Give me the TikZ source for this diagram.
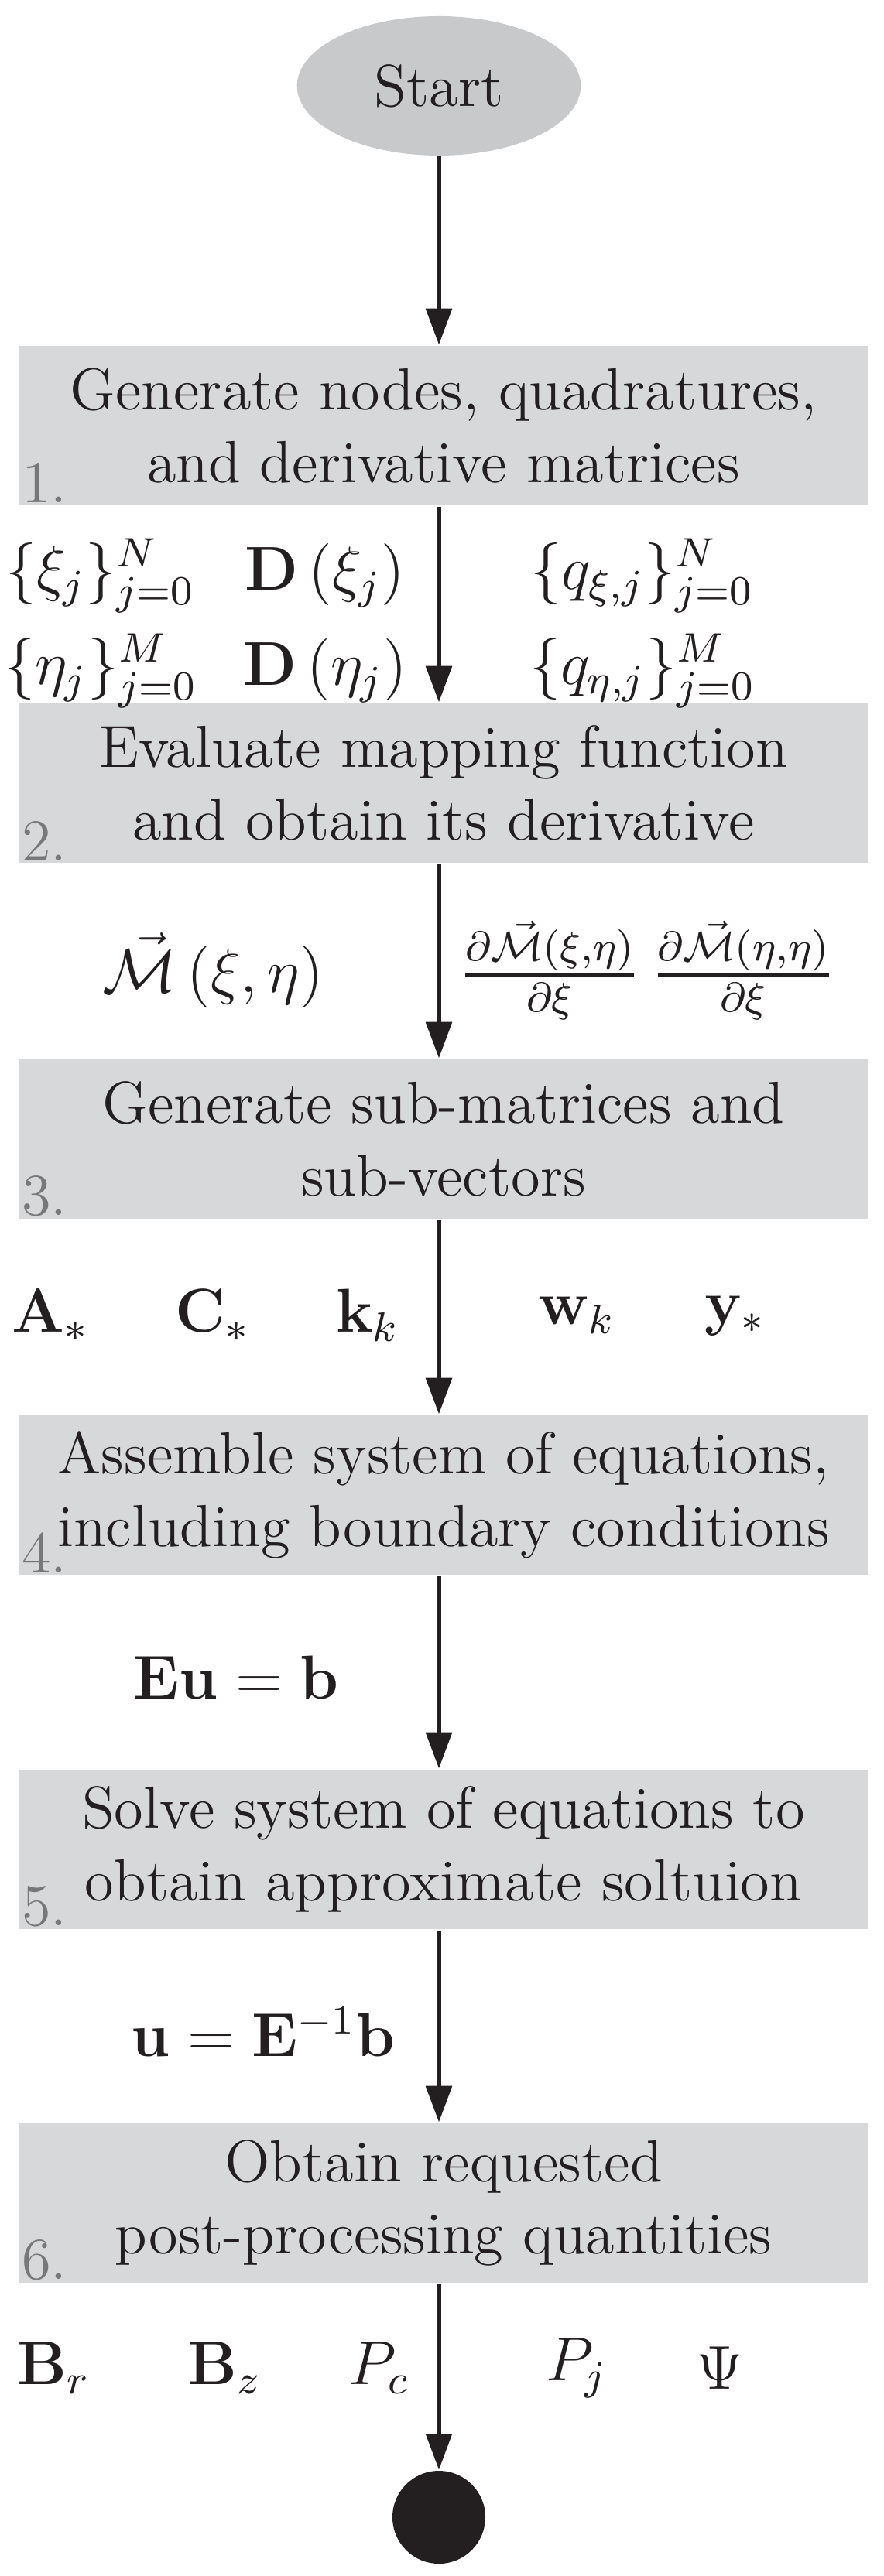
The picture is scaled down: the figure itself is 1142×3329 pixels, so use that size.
\documentclass[tikz,border=0pt]{standalone}
\usepackage{amsmath}
\usetikzlibrary{arrows.meta,shapes.geometric}
\definecolor{boxgray}{RGB}{215,216,218}
\definecolor{ellgray}{RGB}{200,201,203}
\definecolor{numgray}{RGB}{120,120,120}
\definecolor{ink}{RGB}{35,31,32}
\begin{document}
\begin{tikzpicture}[x=0.15pt,y=-0.15pt,font=\fontsize{11.5}{14}\selectfont,
  stepbox/.style={fill=boxgray,minimum width=164.4pt,minimum height=31pt,align=center,inner sep=0pt,text=ink},
  num/.style={text=numgray,anchor=south west,inner sep=0.5pt},
  lbl/.style={text=ink,inner sep=0pt},
  flow/.style={draw=ink,line width=0.75pt,-{Triangle[length=7pt,width=5pt]}}]
\useasboundingbox (0,0) rectangle (1142,3329);
\node[fill=ellgray,ellipse,minimum width=55pt,minimum height=27pt,inner sep=0pt,text=ink] (start) at (567,111) {Start};
\node[stepbox] (b1) at (573,550) {Generate nodes, quadratures,\\ and derivative matrices};
\node[stepbox] (b2) at (573,1012) {Evaluate mapping function\\ and obtain its derivative};
\node[stepbox] (b3) at (573,1472) {Generate sub-matrices and\\ sub-vectors};
\node[stepbox] (b4) at (573,1932) {Assemble system of equations,\\ including boundary conditions};
\node[stepbox] (b5) at (573,2390) {Solve system of equations to\\ obtain approximate soltuion};
\node[stepbox] (b6) at (573,2847) {Obtain requested\\ post-processing quantities};
\node[fill=ink,circle,minimum size=18pt,inner sep=0pt] (end) at (567,3253) {};
\foreach \b/\n in {b1/1,b2/2,b3/3,b4/4,b5/5,b6/6} \node[num] at (\b.south west) {\n.};
\draw[flow] (start) -- (start|-b1.north);
\draw[flow] (b1.south-|start) -- (start|-b2.north);
\draw[flow] (b2.south-|start) -- (start|-b3.north);
\draw[flow] (b3.south-|start) -- (start|-b4.north);
\draw[flow] (b4.south-|start) -- (start|-b5.north);
\draw[flow] (b5.south-|start) -- (start|-b6.north);
\draw[flow] (b6.south-|start) -- (end);
% labels
\node[lbl] (l1) at (130,744) {$\{\xi_j\}_{j=0}^{N}$};
\node[lbl] (l2) at (420,744) {$\mathbf{D}\left(\xi_j\right)$};
\node[lbl] (l3) at (830,744) {$\{q_{\xi,j}\}_{j=0}^{N}$};
\node[lbl] (l4) at (130,867) {$\{\eta_j\}_{j=0}^{M}$};
\node[lbl] (l5) at (420,867) {$\mathbf{D}\left(\eta_j\right)$};
\node[lbl] (l6) at (830,867) {$\{q_{\eta,j}\}_{j=0}^{M}$};
\node[lbl] (m1) at (275,1254) {$\vec{\mathcal{M}}\left(\xi,\eta\right)$};
\node[lbl] (m2) at (710,1254) {$\frac{\partial\vec{\mathcal{M}}(\xi,\eta)}{\partial\xi}$};
\node[lbl] (m3) at (960,1254) {$\frac{\partial\vec{\mathcal{M}}(\eta,\eta)}{\partial\xi}$};
\node[lbl] (a1) at (65,1700) {$\mathbf{A}_*$};
\node[lbl] (a2) at (275,1700) {$\mathbf{C}_*$};
\node[lbl] (a3) at (475,1700) {$\mathbf{k}_k$};
\node[lbl] (a4) at (745,1700) {$\mathbf{w}_k$};
\node[lbl] (a5) at (950,1700) {$\mathbf{y}_*$};
\node[lbl] (e1) at (305,2168) {$\mathbf{Eu}=\mathbf{b}$};
\node[lbl] (e2) at (340,2626) {$\mathbf{u}=\mathbf{E}^{-1}\mathbf{b}$};
\node[lbl] (p1) at (70,3060) {$\mathbf{B}_r$};
\node[lbl] (p2) at (290,3060) {$\mathbf{B}_z$};
\node[lbl] (p3) at (490,3060) {$P_c$};
\node[lbl] (p4) at (745,3060) {$P_j$};
\node[lbl] (p5) at (930,3060) {$\Psi$};
\end{tikzpicture}
\end{document}
